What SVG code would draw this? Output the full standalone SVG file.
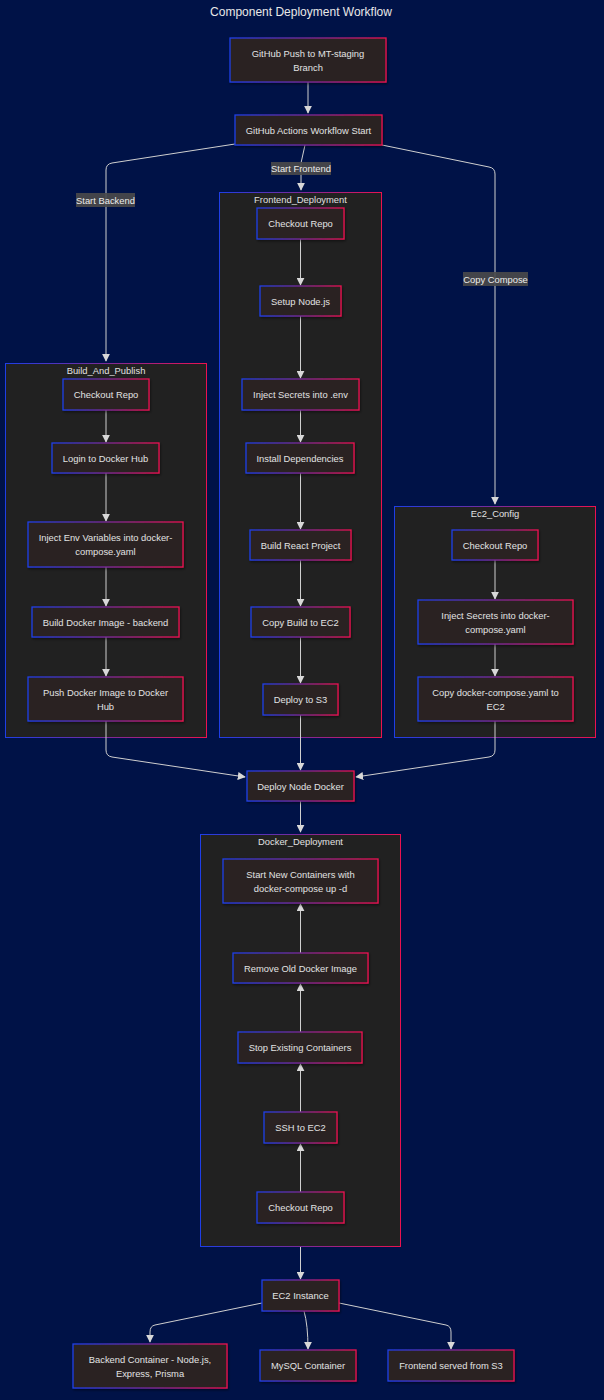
<svg xmlns="http://www.w3.org/2000/svg" width="604" height="1400" viewBox="0 0 604 1400">
<style>
text{font-family:"Liberation Sans",Arial,sans-serif;fill:#e2e2e2;font-size:9.4px;text-anchor:middle;dominant-baseline:central}
.title{font-size:12px;fill:#e8e8e8}
.node rect{fill:#2a2222;stroke:url(#g);stroke-width:1.3;filter:url(#sh)}
.cluster rect{fill:#212121;stroke:url(#g);stroke-width:1}
.edges path{fill:none;stroke:#cfcfcf;stroke-width:1;marker-end:url(#arr)}
.lbl rect{fill:#4a4a4a;fill-opacity:0.9}
.lbl text{fill:#ececec}
</style>
<defs>
<linearGradient id="g" x1="0" y1="0" x2="1" y2="0">
<stop offset="0" stop-color="#1f3ee6"/>
<stop offset="0.5" stop-color="#7a2a9a"/>
<stop offset="1" stop-color="#ea1250"/>
</linearGradient>
<filter id="sh" x="-10%" y="-20%" width="120%" height="150%">
<feDropShadow dx="1" dy="1.5" stdDeviation="1.2" flood-color="#000" flood-opacity="0.5"/>
</filter>
<marker id="arr" viewBox="0 0 10 10" refX="9" refY="5" markerWidth="8" markerHeight="8" markerUnits="userSpaceOnUse" orient="auto">
<path d="M0,0 L10,5 L0,10 z" fill="#d8d8d8"/>
</marker>
</defs>
<rect width="604" height="1400" fill="#001247"/>
<text class="title" x="301" y="12">Component Deployment Workflow</text>

<g id="clusters">
<g id="Build_And_Publish" class="cluster"><rect x="5.5" y="363.5" width="201" height="374"/><text x="106" y="370">Build_And_Publish</text></g>
<g id="Frontend_Deployment" class="cluster"><rect x="219.5" y="192.5" width="162" height="545"/><text x="300.5" y="199">Frontend_Deployment</text></g>
<g id="Ec2_Config" class="cluster"><rect x="394.5" y="506.5" width="201" height="231"/><text x="495" y="513">Ec2_Config</text></g>
<g id="Docker_Deployment" class="cluster"><rect x="200.5" y="834.5" width="200" height="412"/><text x="300.5" y="841">Docker_Deployment</text></g>
</g>

<g id="edges" class="edges">
<path d="M308,82 V113"/>
<path d="M235,144 L112,163 Q106,164 106,170 V361"/>
<path d="M305,145 L301,163 V190"/>
<path d="M382,145 L489,167 Q495,168 495,174 V504"/>
<path d="M106,410 V442"/>
<path d="M106,473 V521"/>
<path d="M106,567 V606"/>
<path d="M106,637 V676"/>
<path d="M300.5,239 V285"/>
<path d="M300.5,316 V378"/>
<path d="M300.5,410 V442"/>
<path d="M300.5,473 V529"/>
<path d="M300.5,560 V606"/>
<path d="M300.5,637 V683"/>
<path d="M495,560 V599"/>
<path d="M495,644 V676"/>
<path d="M106,721 V750 Q106,756 112,757 L245,777"/>
<path d="M300.5,715 V770"/>
<path d="M495,721 V750 Q495,756 489,757 L356,777"/>
<path d="M300.5,801 V832"/>
<path d="M300.5,1192 V1144"/>
<path d="M300.5,1112 V1064"/>
<path d="M300.5,1032 V984"/>
<path d="M300.5,953 V904"/>
<path d="M300.5,1247 V1279"/>
<path d="M262,1303 L155,1325 Q150,1326 150,1332 V1342"/>
<path d="M304,1311 Q308,1325 308,1349"/>
<path d="M339,1303 L446,1325 Q451,1326 451,1332 V1349"/>
</g>

<g id="edge-labels">
<g class="lbl"><rect x="76" y="193" width="59" height="14"/><text x="105.5" y="200">Start Backend</text></g>
<g class="lbl"><rect x="271" y="162" width="60" height="13"/><text x="301" y="168.5">Start Frontend</text></g>
<g class="lbl"><rect x="463" y="272" width="65" height="14"/><text x="495.5" y="279">Copy Compose</text></g>
</g>

<g id="nodes">
<g id="push" class="node"><rect x="230" y="38" width="156" height="44"/><text x="308" y="53">GitHub Push to MT-staging</text><text x="308" y="67">Branch</text></g>
<g id="actions" class="node"><rect x="235" y="115" width="147" height="30"/><text x="308.5" y="130">GitHub Actions Workflow Start</text></g>

<g id="b_checkout" class="node"><rect x="63" y="379" width="86" height="31"/><text x="106" y="394.5">Checkout Repo</text></g>
<g id="b_login" class="node"><rect x="52" y="443" width="107" height="30"/><text x="105.5" y="458">Login to Docker Hub</text></g>
<g id="b_inject" class="node"><rect x="28" y="522" width="155" height="45"/><text x="105.5" y="537.5">Inject Env Variables into docker-</text><text x="105.5" y="551.5">compose.yaml</text></g>
<g id="b_build" class="node"><rect x="32" y="607" width="147" height="30"/><text x="105.5" y="622">Build Docker Image - backend</text></g>
<g id="b_push" class="node"><rect x="28" y="677" width="155" height="44"/><text x="105.5" y="692">Push Docker Image to Docker</text><text x="105.5" y="706">Hub</text></g>

<g id="f_checkout" class="node"><rect x="257" y="208" width="87" height="31"/><text x="300.5" y="223.5">Checkout Repo</text></g>
<g id="f_node" class="node"><rect x="260" y="286" width="81" height="30"/><text x="300.5" y="301">Setup Node.js</text></g>
<g id="f_secrets" class="node"><rect x="242" y="379" width="117" height="31"/><text x="300.5" y="394.5">Inject Secrets into .env</text></g>
<g id="f_install" class="node"><rect x="246" y="443" width="108" height="30"/><text x="300" y="458">Install Dependencies</text></g>
<g id="f_build" class="node"><rect x="250" y="530" width="101" height="30"/><text x="300.5" y="545">Build React Project</text></g>
<g id="f_copy" class="node"><rect x="251" y="607" width="99" height="30"/><text x="300.5" y="622">Copy Build to EC2</text></g>
<g id="f_s3" class="node"><rect x="263" y="684" width="75" height="31"/><text x="300.5" y="699.5">Deploy to S3</text></g>

<g id="e_checkout" class="node"><rect x="452" y="530" width="86" height="30"/><text x="495" y="545">Checkout Repo</text></g>
<g id="e_inject" class="node"><rect x="418" y="600" width="155" height="44"/><text x="495.5" y="615">Inject Secrets into docker-</text><text x="495.5" y="629">compose.yaml</text></g>
<g id="e_copy" class="node"><rect x="418" y="677" width="155" height="44"/><text x="495.5" y="692">Copy docker-compose.yaml to</text><text x="495.5" y="706">EC2</text></g>

<g id="deploy_node_docker" class="node"><rect x="247" y="771" width="107" height="30"/><text x="300.5" y="786">Deploy Node Docker</text></g>

<g id="d_start" class="node"><rect x="223" y="859" width="155" height="44"/><text x="300.5" y="874">Start New Containers with</text><text x="300.5" y="888">docker-compose up -d</text></g>
<g id="d_remove" class="node"><rect x="233" y="953" width="135" height="30"/><text x="300.5" y="968">Remove Old Docker Image</text></g>
<g id="d_stop" class="node"><rect x="238" y="1032" width="124" height="31"/><text x="300" y="1047.5">Stop Existing Containers</text></g>
<g id="d_ssh" class="node"><rect x="264" y="1112" width="73" height="31"/><text x="300.5" y="1127.5">SSH to EC2</text></g>
<g id="d_checkout" class="node"><rect x="257" y="1192" width="87" height="31"/><text x="300.5" y="1207.5">Checkout Repo</text></g>

<g id="ec2" class="node"><rect x="262" y="1280" width="77" height="31"/><text x="300.5" y="1295.5">EC2 Instance</text></g>
<g id="backend_container" class="node"><rect x="73" y="1344" width="154" height="44"/><text x="150" y="1359">Backend Container - Node.js,</text><text x="150" y="1373">Express, Prisma</text></g>
<g id="mysql" class="node"><rect x="260" y="1350" width="96" height="31"/><text x="308" y="1365.5">MySQL Container</text></g>
<g id="frontend_s3" class="node"><rect x="388" y="1350" width="126" height="31"/><text x="451" y="1365.5">Frontend served from S3</text></g>
</g>
</svg>
